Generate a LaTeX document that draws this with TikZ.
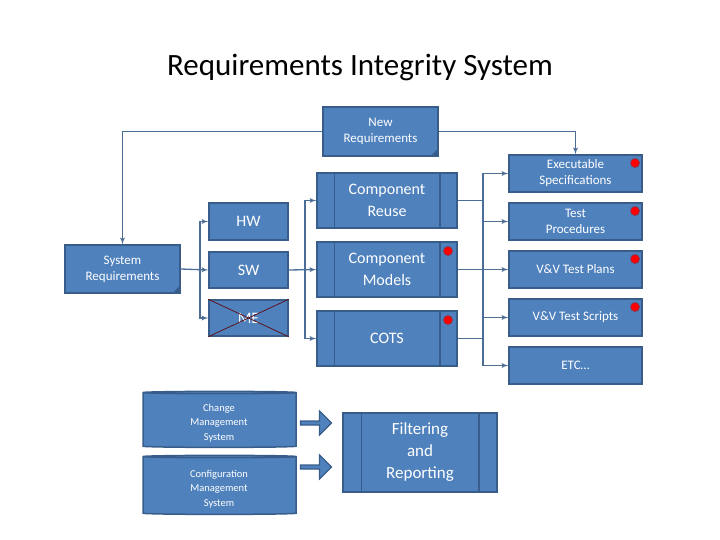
\documentclass[tikz,border=0pt]{standalone}
\usepackage{fontspec}
\setmainfont{Carlito}
\usetikzlibrary{shapes.geometric,shapes.arrows,arrows,positioning,calc}
\definecolor{boxfill}{HTML}{4F81BD}
\definecolor{boxline}{HTML}{385D8A}
\definecolor{cylfill}{HTML}{B9CDE5}
\tikzstyle{block}=[draw=boxline, fill=boxfill, line width=1.5pt, text=white, align=center, inner sep=0pt]
\tikzstyle{link}=[draw=boxline!90!white, line width=1.3pt, -latex']
\tikzstyle{dot}=[circle, fill=red, draw=boxline!60!red, line width=0.8pt, minimum size=9pt, inner sep=0pt]
\newcommand{\dogear}[1]{\fill[boxline] ($(#1.south east)+(-9,0)$) -- (#1.south east) -- ($(#1.south east)+(0,-9)$) -- cycle;}
\newcommand{\bars}[2]{\draw[boxline, line width=1.5pt] ($(#1.north west)+(#2,0)$) -- ($(#1.south west)+(#2,0)$) ($(#1.north east)+(-#2,0)$) -- ($(#1.south east)+(-#2,0)$);}
\newcommand{\fs}[1]{\fontsize{#1}{1.25*#1}\selectfont}

\begin{document}
\begin{tikzpicture}[x=1pt,y=-1pt,font=\fontsize{13}{16}\selectfont]
\useasboundingbox (0,0) rectangle (720,540);
\node (title) at (360,68) {\fontsize{31}{36}\selectfont Requirements Integrity System};

\node (nr) [block, minimum width=115, minimum height=49] at (380.5,131.5) {New\\Requirements};
\dogear{nr}
\node (sr) [block, minimum width=115, minimum height=48] at (122.5,269) {System\\Requirements};
\dogear{sr}

\node (hw) [block, minimum width=79, minimum height=37, font=\fontsize{16}{19}\selectfont] at (248.5,221.5) {HW};
\node (sw) [block, minimum width=79, minimum height=36, font=\fontsize{16}{19}\selectfont] at (248.5,270) {SW};
\node (me) [block, minimum width=79, minimum height=36, font=\fontsize{16}{19}\selectfont] at (248.5,318) {ME};
\draw[red!40!black!80!boxline, line width=0.8pt] (me.north west) -- (me.south east) (me.south west) -- (me.north east);

\node (cr) [block, minimum width=140, minimum height=55, font=\fontsize{16}{22}\selectfont] at (387,200.5) {Component\\Reuse};
\node (cm) [block, minimum width=140, minimum height=55, font=\fontsize{16}{22}\selectfont] at (387,269.5) {Component\\Models};
\node (cots) [block, minimum width=140, minimum height=55, font=\fontsize{16}{22}\selectfont] at (387,338.5) {\raisebox{-1ex}{COTS}};
\foreach \n in {cr,cm,cots} {\bars{\n}{18}}
\node (dcm) [dot] at (448,251) {};
\node (dcots) [dot] at (448,320) {};

\node (es) [block, minimum width=133, minimum height=37] at (575.5,173.5) {Executable\\Specifications};
\node (tp) [block, minimum width=133, minimum height=37] at (575.5,221.5) {Test\\Procedures};
\node (vp) [block, minimum width=133, minimum height=37] at (575.5,269.5) {V\&V Test Plans};
\node (vs) [block, minimum width=133, minimum height=37] at (575.5,317.5) {V\&V Test Scripts};
\node (etc) [block, minimum width=133, minimum height=37] at (575.5,365.5) {ETC\dots};
\foreach \n/\y in {es/163,tp/211,vp/259,vs/307} {\node (d\n) [dot] at (635,\y) {};}

% connectors
\draw[link] (nr.west) -| (sr.north);
\draw[link] (nr.east) -| (es.north);
\coordinate (t1) at (200,269);
\draw[link] (sr.east) -- (sw.west);
\draw[link] (t1) |- (hw.west);
\draw[link] (t1) |- (me.west);
\coordinate (t2) at (305,269);
\draw[link] (sw.east) -- (cm.west);
\draw[link] (t2) |- (cr.west);
\draw[link] (t2) |- (cots.west);
\coordinate (t3) at (483,269);
\draw[link,-] (cr.east) -| (t3);
\draw[link,-] (cots.east) -| (t3);
\draw[link] (cm.east) -- (vp.west);
\foreach \n in {es,tp,vs,etc} {\draw[link] (t3) |- (\n.west);}

% repositories
\tikzstyle{repo}=[cylinder, shape border rotate=90, aspect=0.35, draw=boxline, fill=boxfill, cylinder uses custom fill, cylinder body fill=boxfill, cylinder end fill=cylfill, line width=1.5pt, text=white, align=center, minimum width=153, font=\fontsize{10.5}{14.5}\selectfont]
\node (chg) [repo, minimum height=56] at (219.5,420.5) {};
\node (cfg) [repo, minimum height=59] at (219.5,486) {};
\node (chgt) [text=white, align=center, font=\fontsize{10.5}{14.5}\selectfont] at (219,423) {Change\\Management\\System};
\node (cfgt) [text=white, align=center, font=\fontsize{10.5}{14.5}\selectfont] at (219,489) {Configuration\\Management\\System};
\node (flt) [block, minimum width=154, minimum height=79, font=\fontsize{17}{22}\selectfont] at (420,452.5) {Filtering\\and\\Reporting};
\bars{flt}{19}
\tikzstyle{fat}=[single arrow, draw=boxline, fill=boxfill, line width=1.2pt, minimum height=31, minimum width=24, single arrow head extend=3pt, inner sep=0pt]
\node (a1) [fat] at (315,423) {};
\node (a2) [fat] at (315,467) {};
\end{tikzpicture}
\end{document}
